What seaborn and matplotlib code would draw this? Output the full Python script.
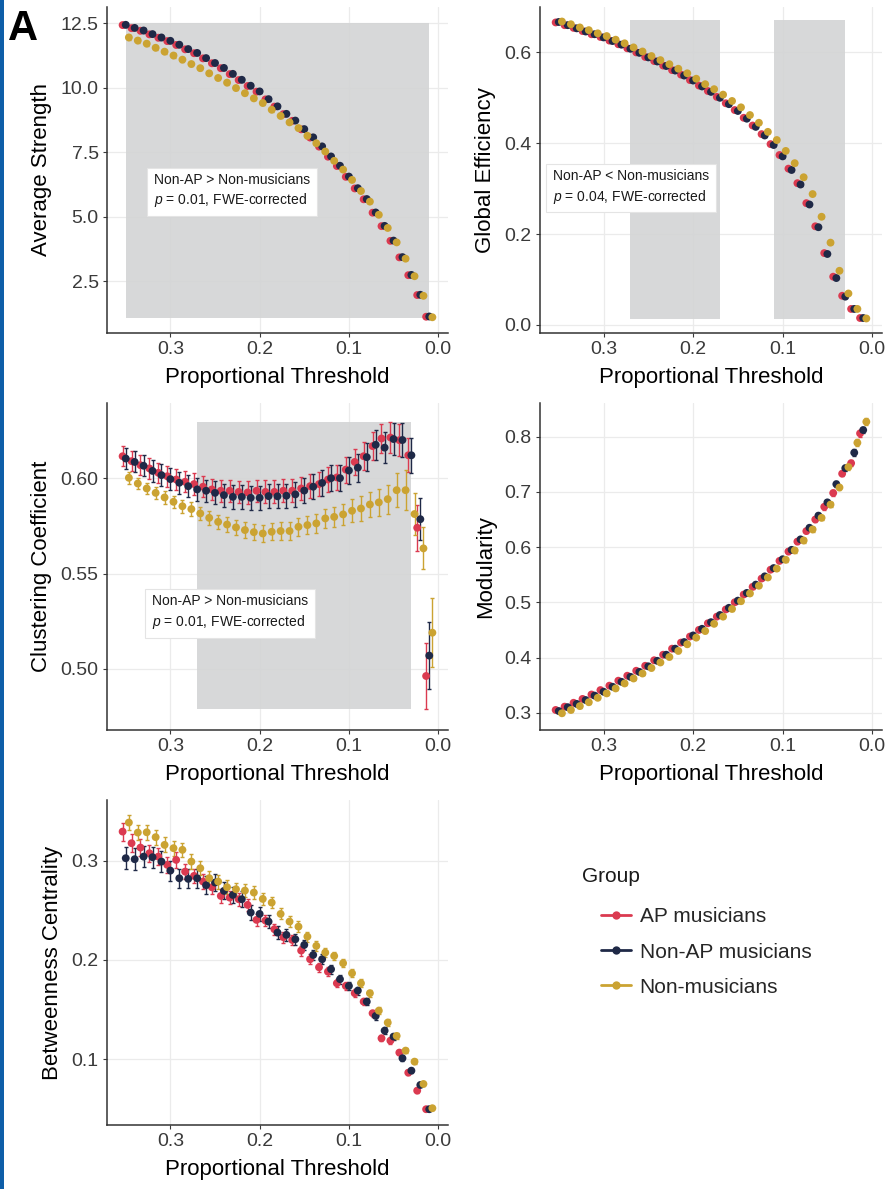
import matplotlib
matplotlib.use("Agg")
import matplotlib.pyplot as plt
import numpy as np
import pandas as pd
import seaborn as sns
from matplotlib.lines import Line2D
from matplotlib.patches import Rectangle

# ---------------------------------------------------------------- data
thresholds = [0.35, 0.34, 0.33, 0.32, 0.31, 0.30, 0.29, 0.28, 0.27, 0.26,
              0.25, 0.24, 0.23, 0.22, 0.21, 0.20, 0.19, 0.18, 0.17, 0.16,
              0.15, 0.14, 0.13, 0.12, 0.11, 0.10, 0.09, 0.08, 0.07, 0.06,
              0.05, 0.04, 0.03, 0.02, 0.01]

groups = ["AP musicians", "Non-AP musicians", "Non-musicians"]
colors = ["#DB3A50", "#1F2947", "#CBA332"]

# Average strength
strength_ap = [12.43, 12.31, 12.21, 12.07, 11.94, 11.81, 11.66, 11.49, 11.34, 11.14,
               10.95, 10.76, 10.53, 10.30, 10.07, 9.85, 9.55, 9.27, 8.98, 8.72,
               8.39, 8.07, 7.72, 7.33, 6.97, 6.55, 6.10, 5.68, 5.16, 4.64,
               4.07, 3.43, 2.74, 1.97, 1.13]
strength_nonap = [12.44, 12.32, 12.22, 12.08, 11.95, 11.82, 11.67, 11.50, 11.35, 11.15,
                  10.96, 10.77, 10.54, 10.31, 10.08, 9.86, 9.56, 9.28, 8.99, 8.73,
                  8.40, 8.08, 7.73, 7.34, 6.98, 6.56, 6.11, 5.69, 5.17, 4.65,
                  4.08, 3.44, 2.75, 1.98, 1.14]
strength_nonmus = [11.95, 11.83, 11.71, 11.55, 11.40, 11.25, 11.09, 10.92, 10.76, 10.56,
                   10.38, 10.20, 9.99, 9.79, 9.59, 9.41, 9.15, 8.91, 8.66, 8.44,
                   8.14, 7.85, 7.53, 7.17, 6.83, 6.43, 6.00, 5.59, 5.08, 4.57,
                   4.01, 3.38, 2.70, 1.94, 1.11]
strength_se = [0.08, 0.08, 0.08, 0.08, 0.08, 0.08, 0.08, 0.08, 0.08, 0.08,
               0.08, 0.08, 0.08, 0.08, 0.08, 0.07, 0.07, 0.07, 0.07, 0.07,
               0.07, 0.06, 0.06, 0.06, 0.06, 0.06, 0.05, 0.05, 0.05, 0.05,
               0.04, 0.04, 0.04, 0.03, 0.03]

# Global efficiency
geff_ap = [0.666, 0.660, 0.654, 0.647, 0.640, 0.634, 0.626, 0.618, 0.609, 0.600,
           0.590, 0.581, 0.571, 0.561, 0.551, 0.539, 0.527, 0.515, 0.502, 0.488,
           0.473, 0.456, 0.439, 0.420, 0.398, 0.374, 0.344, 0.312, 0.268, 0.217,
           0.158, 0.106, 0.064, 0.035, 0.015]
geff_nonap = [0.667, 0.660, 0.653, 0.646, 0.640, 0.633, 0.625, 0.617, 0.608, 0.599,
              0.589, 0.580, 0.570, 0.560, 0.549, 0.538, 0.525, 0.513, 0.500, 0.486,
              0.471, 0.454, 0.436, 0.417, 0.396, 0.371, 0.341, 0.309, 0.265, 0.215,
              0.156, 0.103, 0.062, 0.035, 0.015]
geff_nonmus = [0.668, 0.662, 0.655, 0.649, 0.642, 0.636, 0.628, 0.620, 0.611, 0.602,
               0.592, 0.583, 0.574, 0.564, 0.554, 0.542, 0.530, 0.519, 0.507, 0.493,
               0.479, 0.462, 0.445, 0.425, 0.407, 0.383, 0.356, 0.325, 0.288, 0.238,
               0.181, 0.119, 0.069, 0.035, 0.014]
geff_se = [0.003, 0.003, 0.003, 0.003, 0.003, 0.003, 0.003, 0.003, 0.003, 0.003,
           0.003, 0.003, 0.003, 0.003, 0.003, 0.003, 0.003, 0.003, 0.003, 0.003,
           0.003, 0.003, 0.003, 0.003, 0.003, 0.003, 0.003, 0.003, 0.003, 0.003,
           0.003, 0.003, 0.002, 0.002, 0.002]

# Clustering coefficient
clust_ap = [0.6115, 0.6089, 0.6068, 0.6051, 0.6028, 0.6010, 0.5993, 0.5981, 0.5969, 0.5955,
            0.5941, 0.5934, 0.5934, 0.5928, 0.5925, 0.5934, 0.5928, 0.5928, 0.5934, 0.5934,
            0.5946, 0.5958, 0.5969, 0.5993, 0.6004, 0.6045, 0.6085, 0.6115, 0.6168, 0.6208,
            0.6213, 0.6199, 0.6120, 0.5740, 0.4963]
clust_nonap = [0.6103, 0.6085, 0.6065, 0.6038, 0.6016, 0.5995, 0.5976, 0.5958, 0.5941, 0.5934,
               0.5923, 0.5911, 0.5902, 0.5902, 0.5897, 0.5897, 0.5906, 0.5905, 0.5908, 0.5915,
               0.5935, 0.5955, 0.5975, 0.6000, 0.6000, 0.6040, 0.6055, 0.6110, 0.6175, 0.6160,
               0.6205, 0.6200, 0.6120, 0.5785, 0.5070]
clust_nonmus = [0.6002, 0.5972, 0.5946, 0.5923, 0.5899, 0.5876, 0.5853, 0.5838, 0.5815, 0.5792,
                0.5771, 0.5757, 0.5742, 0.5728, 0.5717, 0.5710, 0.5719, 0.5723, 0.5723, 0.5745,
                0.5754, 0.5763, 0.5789, 0.5797, 0.5810, 0.5829, 0.5841, 0.5862, 0.5873, 0.5890,
                0.5937, 0.5937, 0.5812, 0.5632, 0.5190]
clust_ap_se = [0.0052, 0.0052, 0.0053, 0.0053, 0.0054, 0.0054, 0.0055, 0.0055, 0.0056, 0.0056,
               0.0057, 0.0057, 0.0058, 0.0058, 0.0059, 0.0059, 0.0060, 0.0060, 0.0061, 0.0061,
               0.0062, 0.0063, 0.0064, 0.0065, 0.0066, 0.0068, 0.0070, 0.0072, 0.0075, 0.0078,
               0.0082, 0.0085, 0.0090, 0.0120, 0.0175]
clust_nonap_se = [0.0055, 0.0055, 0.0056, 0.0056, 0.0057, 0.0057, 0.0058, 0.0058, 0.0059, 0.0059,
                  0.0060, 0.0060, 0.0061, 0.0061, 0.0062, 0.0062, 0.0063, 0.0063, 0.0064, 0.0064,
                  0.0065, 0.0066, 0.0067, 0.0068, 0.0069, 0.0071, 0.0073, 0.0075, 0.0078, 0.0081,
                  0.0085, 0.0088, 0.0092, 0.0110, 0.0175]
clust_nonmus_se = [0.0030, 0.0030, 0.0031, 0.0031, 0.0032, 0.0033, 0.0034, 0.0035, 0.0036, 0.0037,
                   0.0038, 0.0039, 0.0040, 0.0041, 0.0042, 0.0043, 0.0044, 0.0045, 0.0046, 0.0047,
                   0.0048, 0.0050, 0.0052, 0.0054, 0.0056, 0.0060, 0.0064, 0.0068, 0.0072, 0.0076,
                   0.0090, 0.0105, 0.0110, 0.0110, 0.0180]

# Modularity
mod_ap = [0.305, 0.311, 0.318, 0.325, 0.333, 0.341, 0.349, 0.358, 0.367, 0.376,
          0.385, 0.395, 0.405, 0.416, 0.427, 0.438, 0.450, 0.462, 0.474, 0.487,
          0.500, 0.514, 0.528, 0.543, 0.559, 0.575, 0.592, 0.610, 0.629, 0.650,
          0.673, 0.698, 0.733, 0.752, 0.806]
mod_nonap = [0.303, 0.310, 0.316, 0.323, 0.331, 0.338, 0.347, 0.356, 0.365, 0.374,
             0.384, 0.394, 0.405, 0.416, 0.428, 0.440, 0.452, 0.464, 0.477, 0.490,
             0.503, 0.517, 0.532, 0.547, 0.562, 0.578, 0.595, 0.614, 0.635, 0.657,
             0.681, 0.714, 0.743, 0.771, 0.812]
mod_nonmus = [0.299, 0.305, 0.312, 0.319, 0.327, 0.335, 0.344, 0.353, 0.362, 0.371,
              0.381, 0.391, 0.401, 0.412, 0.424, 0.436, 0.448, 0.461, 0.474, 0.488,
              0.502, 0.516, 0.530, 0.545, 0.561, 0.577, 0.594, 0.612, 0.632, 0.653,
              0.677, 0.708, 0.745, 0.789, 0.827]
mod_se = [0.003, 0.003, 0.003, 0.003, 0.003, 0.003, 0.003, 0.003, 0.003, 0.003,
          0.003, 0.003, 0.003, 0.003, 0.003, 0.003, 0.003, 0.003, 0.003, 0.003,
          0.003, 0.003, 0.003, 0.003, 0.003, 0.004, 0.004, 0.004, 0.004, 0.004,
          0.005, 0.005, 0.005, 0.006, 0.006]

# Betweenness centrality
betw_ap = [0.3292, 0.3175, 0.3131, 0.3074, 0.3040, 0.2957, 0.3007, 0.2889, 0.2846, 0.2789,
           0.2731, 0.2644, 0.2627, 0.2611, 0.2554, 0.2403, 0.2396, 0.2309, 0.2229, 0.2201,
           0.2094, 0.2007, 0.1926, 0.1882, 0.1765, 0.1738, 0.1665, 0.1580, 0.1463, 0.1211,
           0.1187, 0.1067, 0.0865, 0.0684, 0.0497]
betw_nonap = [0.3024, 0.3014, 0.3040, 0.3034, 0.2990, 0.2899, 0.2822, 0.2816, 0.2822, 0.2752,
              0.2779, 0.2695, 0.2654, 0.2611, 0.2477, 0.2463, 0.2386, 0.2275, 0.2252, 0.2208,
              0.2151, 0.2050, 0.2007, 0.1906, 0.1806, 0.1738, 0.1691, 0.1580, 0.1436, 0.1288,
              0.1228, 0.1010, 0.0885, 0.0741, 0.0497]
betw_nonmus = [0.3383, 0.3282, 0.3285, 0.3236, 0.3158, 0.3125, 0.3108, 0.2990, 0.2923, 0.2823,
               0.2789, 0.2732, 0.2712, 0.2698, 0.2678, 0.2614, 0.2577, 0.2463, 0.2386, 0.2335,
               0.2235, 0.2141, 0.2074, 0.2040, 0.1967, 0.1866, 0.1765, 0.1665, 0.1489, 0.1369,
               0.1235, 0.1087, 0.0976, 0.0751, 0.0507]
betw_ap_se = [0.0090, 0.0088, 0.0086, 0.0084, 0.0082, 0.0080, 0.0078, 0.0076, 0.0074, 0.0072,
              0.0070, 0.0068, 0.0066, 0.0064, 0.0062, 0.0060, 0.0058, 0.0056, 0.0054, 0.0052,
              0.0050, 0.0048, 0.0046, 0.0044, 0.0042, 0.0040, 0.0038, 0.0036, 0.0034, 0.0032,
              0.0030, 0.0028, 0.0025, 0.0020, 0.0015]
betw_nonap_se = [0.0110, 0.0110, 0.0108, 0.0106, 0.0104, 0.0100, 0.0098, 0.0096, 0.0094, 0.0092,
                 0.0090, 0.0086, 0.0082, 0.0078, 0.0074, 0.0070, 0.0066, 0.0062, 0.0058, 0.0055,
                 0.0052, 0.0050, 0.0048, 0.0046, 0.0044, 0.0042, 0.0040, 0.0038, 0.0036, 0.0033,
                 0.0030, 0.0028, 0.0025, 0.0020, 0.0015]
betw_nonmus_se = [0.0080, 0.0079, 0.0078, 0.0077, 0.0076, 0.0075, 0.0074, 0.0073, 0.0072, 0.0071,
                  0.0070, 0.0068, 0.0066, 0.0064, 0.0062, 0.0060, 0.0058, 0.0056, 0.0054, 0.0052,
                  0.0050, 0.0048, 0.0046, 0.0044, 0.0042, 0.0040, 0.0038, 0.0036, 0.0034, 0.0032,
                  0.0030, 0.0028, 0.0025, 0.0020, 0.0015]

x_ticks = [0.3, 0.2, 0.1, 0.0]
x_tick_labels = ["0.3", "0.2", "0.1", "0.0"]

# ---------------------------------------------------------------- style
sns.set_theme(style="whitegrid")
plt.rcParams["font.family"] = ["Liberation Sans", "DejaVu Sans"]
plt.rcParams["mathtext.fontset"] = "custom"
plt.rcParams["mathtext.rm"] = "Liberation Sans"
plt.rcParams["mathtext.it"] = "Liberation Sans:italic"

palette = dict(zip(groups, colors))
dodge = {groups[0]: 0.0035, groups[1]: 0.0, groups[2]: -0.0035}

W, H = 892, 1189
fig = plt.figure(figsize=(W / 100, H / 100), dpi=100)


def axes_at(left, top, right, bottom):
    return fig.add_axes([left / W, 1 - bottom / H, (right - left) / W, (bottom - top) / H])


def long_frame(means, ses):
    parts = []
    for g, m, s in zip(groups, means, ses):
        d = pd.DataFrame({"threshold": thresholds, "value": m, "se": s})
        d["group"] = g
        d["x"] = d["threshold"] + dodge[g]
        parts.append(d)
    return pd.concat(parts, ignore_index=True)


def panel(ax, means, ses, ylabel, ylim, yticks, yticklabels, spans=(), note=None):
    df = long_frame(means, ses)
    for g in groups:
        sub = df[df["group"] == g]
        ax.errorbar(sub["x"], sub["value"], yerr=sub["se"], fmt="none",
                    ecolor=palette[g], elinewidth=1.0, capsize=1.6, capthick=1.0,
                    zorder=3)
    sns.scatterplot(data=df, x="x", y="value", hue="group", hue_order=groups,
                    palette=palette, s=32, linewidth=0, legend=False, ax=ax,
                    zorder=4)
    lo = (df["value"] - df["se"]).min()
    hi = (df["value"] + df["se"]).max()
    for a, b in spans:
        ax.add_patch(Rectangle((b, lo), a - b, hi - lo, facecolor="#d3d4d5",
                               alpha=0.9, linewidth=0, zorder=1))
    if note is not None:
        nx, ny, txt = note
        ax.text(nx, ny, txt, fontsize=10, ha="left", va="center", linespacing=1.35,
                color="#1a1a1a", zorder=5,
                bbox=dict(boxstyle="square,pad=0.5", facecolor="white",
                          edgecolor="#e4e4e4", linewidth=0.8))
    ax.set_xlim(0.371, -0.011)
    ax.set_ylim(*ylim)
    ax.set_xticks(x_ticks)
    ax.set_xticklabels(x_tick_labels)
    ax.set_yticks(yticks)
    ax.set_yticklabels(yticklabels)
    ax.set_xlabel("Proportional Threshold", fontsize=16, labelpad=6, color="black")
    ax.set_ylabel(ylabel, fontsize=16, labelpad=6, color="black")
    ax.tick_params(axis="both", labelsize=14, colors="#3a3a3a", length=3, width=0.8,
                   pad=3, left=True, bottom=True)
    ax.grid(True, color="#ebebeb", linewidth=0.9)
    ax.set_axisbelow(True)
    ax.set_facecolor("white")
    for side in ("top", "right"):
        ax.spines[side].set_visible(False)
    for side in ("left", "bottom"):
        ax.spines[side].set_color("#333333")
        ax.spines[side].set_linewidth(1.1)


ax1 = axes_at(107, 7, 448, 333)
panel(ax1, [strength_ap, strength_nonap, strength_nonmus],
      [strength_se, strength_se, strength_se], "Average Strength",
      (0.50, 13.13), [2.5, 5.0, 7.5, 10.0, 12.5], ["2.5", "5.0", "7.5", "10.0", "12.5"],
      spans=[(0.35, 0.01)],
      note=(0.318, 6.0, "Non-AP > Non-musicians\n$p$ = 0.01, FWE-corrected"))

ax2 = axes_at(540, 7, 882, 333)
panel(ax2, [geff_ap, geff_nonap, geff_nonmus], [geff_se, geff_se, geff_se],
      "Global Efficiency", (-0.018, 0.70), [0.0, 0.2, 0.4, 0.6],
      ["0.0", "0.2", "0.4", "0.6"],
      spans=[(0.27, 0.17), (0.11, 0.03)],
      note=(0.356, 0.303, "Non-AP < Non-musicians\n$p$ = 0.04, FWE-corrected"))

ax3 = axes_at(107, 403, 448, 730)
panel(ax3, [clust_ap, clust_nonap, clust_nonmus],
      [clust_ap_se, clust_nonap_se, clust_nonmus_se], "Clustering Coefficient",
      (0.468, 0.6394), [0.50, 0.55, 0.60], ["0.50", "0.55", "0.60"],
      spans=[(0.27, 0.03)],
      note=(0.321, 0.5295, "Non-AP > Non-musicians\n$p$ = 0.01, FWE-corrected"))

ax4 = axes_at(540, 403, 882, 730)
panel(ax4, [mod_ap, mod_nonap, mod_nonmus], [mod_se, mod_se, mod_se], "Modularity",
      (0.2687, 0.861), [0.3, 0.4, 0.5, 0.6, 0.7, 0.8],
      ["0.3", "0.4", "0.5", "0.6", "0.7", "0.8"])

ax5 = axes_at(107, 800, 448, 1125)
panel(ax5, [betw_ap, betw_nonap, betw_nonmus],
      [betw_ap_se, betw_nonap_se, betw_nonmus_se], "Betweenness Centrality",
      (0.0338, 0.361), [0.1, 0.2, 0.3], ["0.1", "0.2", "0.3"])

# legend
fig.text(582 / W, 1 - 877 / H, "Group", fontsize=15, ha="left", va="center",
         color="#1a1a1a")
handles = [Line2D([0], [0], color=c, lw=2, marker="o", markersize=6,
                  markeredgewidth=0) for c in colors]
fig.legend(handles, groups, loc="center left", bbox_to_anchor=(601 / W, 1 - 952 / H),
           frameon=False, fontsize=15, handlelength=1.45, handletextpad=0.4,
           labelspacing=0.78, borderpad=0, borderaxespad=0)

# panel letter and edge strip
fig.text(8 / W, 1 - 40 / H, "A", fontsize=30, fontweight="bold", ha="left",
         va="baseline", color="black")
fig.patches.append(Rectangle((0, 0), 4 / W, 1, transform=fig.transFigure,
                             facecolor="#0e5ea8", linewidth=0, zorder=10))

fig.savefig("out.png", dpi=100, facecolor="white")
